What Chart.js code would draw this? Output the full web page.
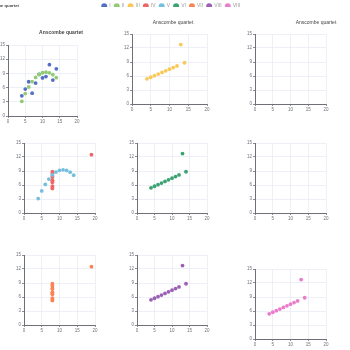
<!DOCTYPE html>
<html><head><meta charset="utf-8">
<script src="https://cdn.jsdelivr.net/npm/chart.js@4/dist/chart.umd.min.js"></script>
<style>
html,body{margin:0;padding:0;background:#fff;overflow:hidden}
#wrap{position:relative;width:350px;height:350px;overflow:hidden;background:#fff}
canvas{position:absolute}
.t{position:absolute;font-family:'Liberation Sans',Arial,sans-serif;font-size:5px;color:#464646;white-space:nowrap;line-height:5px}
</style></head><body><div id="wrap"></div>
<script>
// ---- data ----
const xsABC = [10, 8, 13, 9, 11, 14, 6, 4, 12, 7, 5];
const ysI = [8.04, 6.95, 7.58, 8.81, 8.33, 9.96, 7.24, 4.26, 10.84, 4.82, 5.68];
const ysII = [9.14, 8.14, 8.74, 8.77, 9.26, 8.10, 6.13, 3.10, 9.13, 7.26, 4.74];
const ysIII = [7.46, 6.77, 12.74, 7.11, 7.81, 8.84, 6.08, 5.39, 8.15, 6.42, 5.73];
const xsIV = [8, 8, 8, 8, 8, 8, 8, 19, 8, 8, 8];
const ysIV = [6.58, 5.76, 7.71, 8.84, 8.47, 7.04, 5.25, 12.50, 5.56, 7.91, 6.89];
const seriesNames = ['I', 'II', 'III', 'IV', 'V', 'VI', 'VII', 'VIII', 'VIII'];
const seriesColors = ['#5470c6', '#91cc75', '#fac858', '#ee6666', '#73c0de', '#3ba272', '#fc8452', '#9a60b4', '#ea7ccc'];
const seriesX = [xsABC, xsABC, xsABC, xsIV, xsABC, xsABC, xsIV, xsABC, xsABC];
const seriesY = [ysI, ysII, ysIII, ysIV, ysII, ysIII, ysIV, ysIII, ysIII];
const seriesPanel = [0, 0, 1, 3, 3, 4, 6, 7, 8];
const xTicks = [0, 5, 10, 15, 20];
const yTicks = [0, 3, 6, 9, 12, 15];
const titleText = 'Anscombe quartet';

// ---- layout (plot areas) ----
const panels = [
  {l: 8, t: 45, r: 77, b: 116},
  {l: 132, t: 34, r: 207, b: 104},
  {l: 255, t: 34, r: 326, b: 104},
  {l: 24, t: 143, r: 95, b: 213},
  {l: 137, t: 143, r: 207, b: 213},
  {l: 255, t: 143, r: 326, b: 213},
  {l: 24, t: 255, r: 95, b: 325},
  {l: 137, t: 255, r: 207, b: 325},
  {l: 255, t: 269, r: 326, b: 339}
];

const wrap = document.getElementById('wrap');
const FONT = "'Liberation Sans', Arial, sans-serif";
const tickColor = '#6e7079';
const gridColor = '#e9ecf4';

function makeCanvas(left, top, w, h) {
  const c = document.createElement('canvas');
  c.width = w; c.height = h;
  c.style.left = left + 'px'; c.style.top = top + 'px';
  c.style.width = w + 'px'; c.style.height = h + 'px';
  wrap.appendChild(c);
  return c;
}

function axis(ticksArr, fitFn) {
  return {
    type: 'linear',
    min: ticksArr[0], max: ticksArr[ticksArr.length - 1],
    afterBuildTicks(s) { s.ticks = ticksArr.map(v => ({value: v})); },
    ticks: {font: {size: 4.5, family: FONT}, color: tickColor, padding: 1, maxRotation: 0, autoSkip: false},
    grid: {color: gridColor, lineWidth: 0.8, tickLength: 2, tickColor: tickColor},
    border: {color: tickColor, width: 1},
    afterFit: fitFn
  };
}

panels.forEach((p, pi) => {
  const idxs = seriesPanel.map((v, i) => v === pi ? i : -1).filter(i => i >= 0);
  const yw = Math.min(p.l, 14);
  const padT = 4, padR = 6, xh = 9;
  const W = (p.r - p.l) + yw + padR;
  const H = (p.b - p.t) + padT + xh;
  const c = makeCanvas(p.l - yw, p.t - padT, W, H);
  new Chart(c, {
    type: 'scatter',
    data: {
      datasets: idxs.map((i, k) => ({
        label: seriesNames[i],
        data: seriesX[i].map((x, j) => ({x: x, y: seriesY[i][j]})),
        backgroundColor: seriesColors[i],
        borderColor: seriesColors[i],
        borderWidth: 0,
        pointRadius: 1.9,
        order: idxs.length - k
      }))
    },
    options: {
      responsive: false, animation: false, devicePixelRatio: 1,
      layout: {padding: {top: padT, right: padR, left: 0, bottom: 0}},
      plugins: {legend: {display: false}, tooltip: {enabled: false}},
      scales: {
        x: axis(xTicks, s => { s.height = xh; }),
        y: axis(yTicks, s => { s.width = yw; })
      }
    }
  });
});

// legend
const lc = makeCanvas(-4, 0, 350, 14);
new Chart(lc, {
  type: 'scatter',
  data: {datasets: seriesNames.map((n, i) => ({label: n, data: [], backgroundColor: seriesColors[i], borderColor: seriesColors[i], borderWidth: 0}))},
  options: {
    responsive: false, animation: false, devicePixelRatio: 1,
    layout: {padding: 0},
    scales: {x: {display: false}, y: {display: false}},
    plugins: {
      tooltip: {enabled: false},
      legend: {
        display: true, position: 'top', align: 'center',
        labels: {usePointStyle: true, pointStyle: 'circle', boxWidth: 5, boxHeight: 4.2, padding: 3.6,
          color: '#9a9a9a', font: {size: 5, family: FONT}}
      }
    }
  }
});

// titles
function title(x, y, bold, anchor, size) {
  const d = document.createElement('div');
  d.className = 't';
  d.textContent = titleText;
  if (bold) d.style.fontWeight = 'bold';
  if (size) d.style.fontSize = size + 'px';
  d.style.top = (y - 2.5) + 'px';
  if (anchor === 'right') { d.style.right = (350 - x) + 'px'; }
  else { d.style.left = x + 'px'; d.style.transform = 'translateX(-50%)'; }
  wrap.appendChild(d);
}
title(19, 5, true, 'right', 4.3);
title(61, 32, true, 'center');
title(173, 22, false, 'center');
title(316, 22, false, 'center');
</script></body></html>
